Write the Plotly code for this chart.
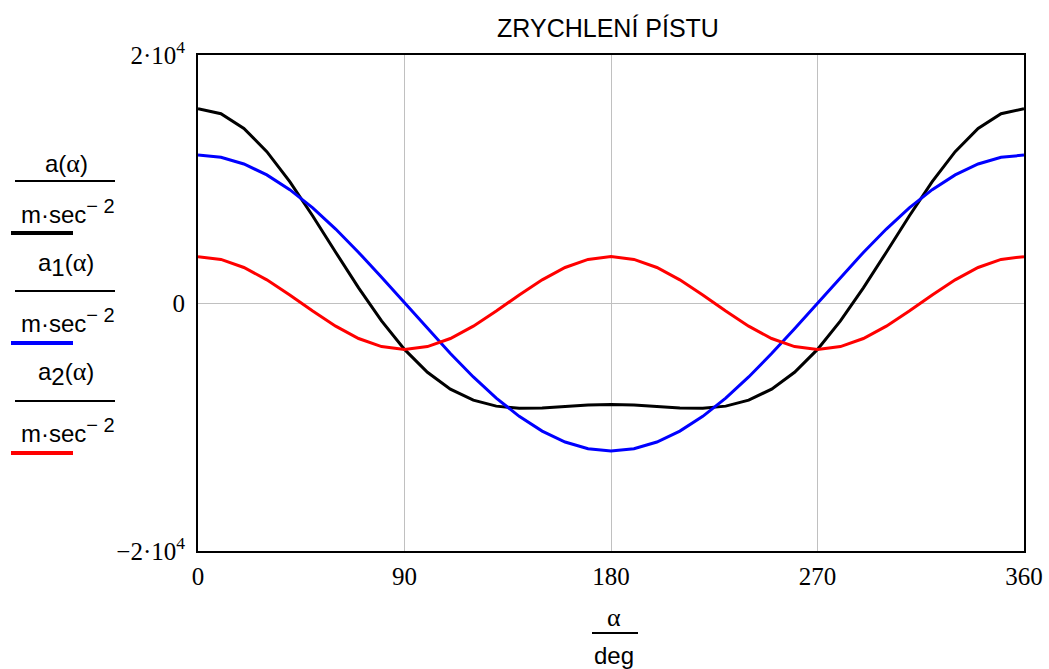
import plotly.graph_objects as go

# crank angle in degrees, 10 degree step
alpha = [0, 10, 20, 30, 40, 50, 60, 70, 80, 90, 100, 110, 120, 130, 140, 150, 160, 170, 180,
         190, 200, 210, 220, 230, 240, 250, 260, 270, 280, 290, 300, 310, 320, 330, 340, 350, 360]

# total piston acceleration a(alpha) [m/s^2]
a_total = [15670, 15263, 14076, 12202, 9788, 7019, 4095, 1215, -1442, -3740, -5586, -6945,
           -7835, -8317, -8490, -8462, -8346, -8235, -8190, -8235, -8346, -8462, -8490, -8317,
           -7835, -6945, -5586, -3740, -1442, 1215, 4095, 7019, 9788, 12202, 14076, 15263, 15670]

# first-order component a1(alpha)
a_first = [11930, 11749, 11211, 10332, 9139, 7668, 5965, 4080, 2072, 0, -2072, -4080,
           -5965, -7668, -9139, -10332, -11211, -11749, -11930, -11749, -11211, -10332, -9139, -7668,
           -5965, -4080, -2072, 0, 2072, 4080, 5965, 7668, 9139, 10332, 11211, 11749, 11930]

# second-order component a2(alpha)
a_second = [3740, 3514, 2865, 1870, 649, -649, -1870, -2865, -3514, -3740, -3514, -2865,
            -1870, -649, 649, 1870, 2865, 3514, 3740, 3514, 2865, 1870, 649, -649,
            -1870, -2865, -3514, -3740, -3514, -2865, -1870, -649, 649, 1870, 2865, 3514, 3740]

x_ticks = [0, 90, 180, 270, 360]
y_ticks = [-20000, 0, 20000]
y_tick_text = ["\u22122\u00b710<sup>4</sup>", "0", "2\u00b710<sup>4</sup>"]

W, H = 1049, 669
L, R, T, B = 198, 1024, 55, 551

def px(x):
    return (x - L) / (R - L)

def py(y):
    return (B - y) / (B - T)

serif = "Liberation Serif"
sans = "Liberation Sans"

fig = go.Figure()
for ys, col in [(a_total, "#000000"), (a_first, "#0000ff"), (a_second, "#ff0000")]:
    fig.add_trace(go.Scatter(x=alpha, y=ys, mode="lines",
                             line=dict(color=col, width=3), showlegend=False))

shapes = []
annotations = []

greek = "<span style='font-family:Liberation Serif;font-size:26px'>\u03b1</span>"
sub = "<span style='font-size:24px'>{}</span>"
# stacked legend entries: numerator / fraction bar / units / line sample
entries = [("a(" + greek + ")", "#000000", 163, 181, 211, 233),
           ("a<sub>" + sub.format("1") + "</sub>(" + greek + ")", "#0000ff", 264, 291, 320, 343),
           ("a<sub>" + sub.format("2") + "</sub>(" + greek + ")", "#ff0000", 374, 401, 430, 453)]
for num, col, y_num, y_bar, y_den, y_line in entries:
    annotations.append(dict(x=px(66), y=py(y_num), xref="paper", yref="paper", text=num,
                            showarrow=False, font=dict(family=sans, size=24, color="black"),
                            xanchor="center", yanchor="middle"))
    shapes.append(dict(type="line", xref="paper", yref="paper", x0=px(15), x1=px(115),
                       y0=py(y_bar), y1=py(y_bar), line=dict(color="black", width=2)))
    annotations.append(dict(x=px(19), y=py(y_den), xref="paper", yref="paper",
                            text="m\u00b7sec<sup><span style='font-size:20px'>\u2212 2</span></sup>",
                            showarrow=False, font=dict(family=sans, size=24, color="black"),
                            xanchor="left", yanchor="middle"))
    shapes.append(dict(type="line", xref="paper", yref="paper", x0=px(11), x1=px(73),
                       y0=py(y_line), y1=py(y_line), line=dict(color=col, width=4)))

# x-axis label as a fraction alpha / deg
annotations.append(dict(x=px(614), y=py(617), xref="paper", yref="paper",
                        text="\u03b1", showarrow=False,
                        font=dict(family=serif, size=26, color="black"),
                        xanchor="center", yanchor="middle"))
shapes.append(dict(type="line", xref="paper", yref="paper", x0=px(592), x1=px(638),
                   y0=py(633), y1=py(633), line=dict(color="black", width=2)))
annotations.append(dict(x=px(614), y=py(655), xref="paper", yref="paper",
                        text="deg", showarrow=False,
                        font=dict(family=sans, size=24, color="black"),
                        xanchor="center", yanchor="middle"))

fig.update_layout(
    width=W, height=H,
    margin=dict(l=L, r=W - R, t=T, b=H - B),
    paper_bgcolor="white", plot_bgcolor="white",
    title=dict(text="ZRYCHLENÍ PÍSTU", x=px(608), xref="paper", xanchor="center",
               y=1 - 28 / H, yanchor="middle",
               font=dict(family=sans, size=25, color="black")),
    shapes=shapes, annotations=annotations,
    xaxis=dict(range=[0, 360], tickvals=x_ticks, ticktext=[str(v) for v in x_ticks],
               showgrid=True, gridcolor="#c0c0c0", gridwidth=1, zeroline=False,
               showline=True, linecolor="black", linewidth=2, mirror=True,
               ticks="", ticklabelstandoff=2, automargin=False,
               tickfont=dict(family=serif, size=25, color="black")),
    yaxis=dict(range=[-20000, 20000], tickvals=y_ticks, ticktext=y_tick_text,
               showgrid=True, gridcolor="#c0c0c0", gridwidth=1, zeroline=False,
               showline=True, linecolor="black", linewidth=2, mirror=True,
               ticks="", ticklabelstandoff=6, automargin=False,
               tickfont=dict(family=serif, size=25, color="black")),
)

fig.write_html("out.html")
